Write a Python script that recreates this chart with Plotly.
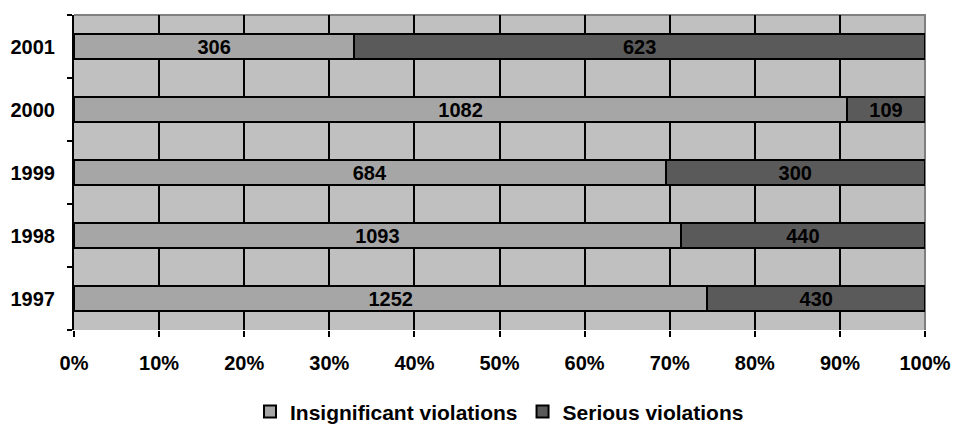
import plotly.graph_objects as go

years = ["1997", "1998", "1999", "2000", "2001"]
insignificant = [1252, 1093, 684, 1082, 306]
serious = [430, 440, 300, 109, 623]
x_ticks = [0, 10, 20, 30, 40, 50, 60, 70, 80, 90, 100]
x_labels = [f"{v}%" for v in x_ticks]

FONT = "Liberation Sans, Arial, sans-serif"

fig = go.Figure()
fig.add_trace(go.Bar(
    y=years, x=insignificant, name="Insignificant violations", orientation="h",
    marker=dict(color="#a6a6a6", line=dict(color="black", width=2)),
    text=[str(v) for v in insignificant], textposition="inside",
    insidetextanchor="middle", textangle=0,
    textfont=dict(family=FONT, size=20, color="black", weight="bold"),
    width=0.4,
))
fig.add_trace(go.Bar(
    y=years, x=serious, name="Serious violations", orientation="h",
    marker=dict(color="#5a5a5a", line=dict(color="black", width=2)),
    text=[str(v) for v in serious], textposition="inside",
    insidetextanchor="middle", textangle=0,
    textfont=dict(family=FONT, size=20, color="black", weight="bold"),
    width=0.4,
))

fig.update_layout(
    barmode="stack", barnorm="percent",
    width=953, height=430,
    margin=dict(l=74, r=28, t=15, b=100),
    paper_bgcolor="white", plot_bgcolor="#c0c0c0",
    font=dict(family=FONT, size=20, color="black", weight="bold"),
    uniformtext=dict(minsize=20, mode="show"),
    legend=dict(orientation="h", x=0.5, xanchor="center",
                yref="container", y=0.042, yanchor="middle",
                font=dict(family=FONT, size=21, color="black", weight="bold"),
                traceorder="normal", itemwidth=30),
    xaxis=dict(range=[0, 100], tickvals=x_ticks, ticktext=x_labels,
               showgrid=True, gridcolor="black", gridwidth=2,
               ticks="outside", ticklen=6, tickwidth=2, tickcolor="black",
               ticklabelstandoff=9, showline=False, zeroline=False, automargin=False,
               tickfont=dict(family=FONT, size=20, color="black", weight="bold")),
    yaxis=dict(type="category", categoryorder="array", categoryarray=years,
               tickson="boundaries", ticks="outside", ticklen=5, tickwidth=2,
               tickcolor="black", showgrid=False, showline=True, linecolor="black",
               linewidth=2, ticklabelstandoff=13, automargin=False,
               tickfont=dict(family=FONT, size=20, color="black", weight="bold")),
    shapes=[dict(type="path", xref="paper", yref="paper",
                 path="M 0,1 L 1,1 L 1,0",
                 line=dict(color="#808080", width=2), layer="below")],
)

fig.write_html(
    "out.html",
    config={"displayModeBar": False},
    post_script="document.body.style.margin='0';document.body.style.overflow='hidden';",
)
